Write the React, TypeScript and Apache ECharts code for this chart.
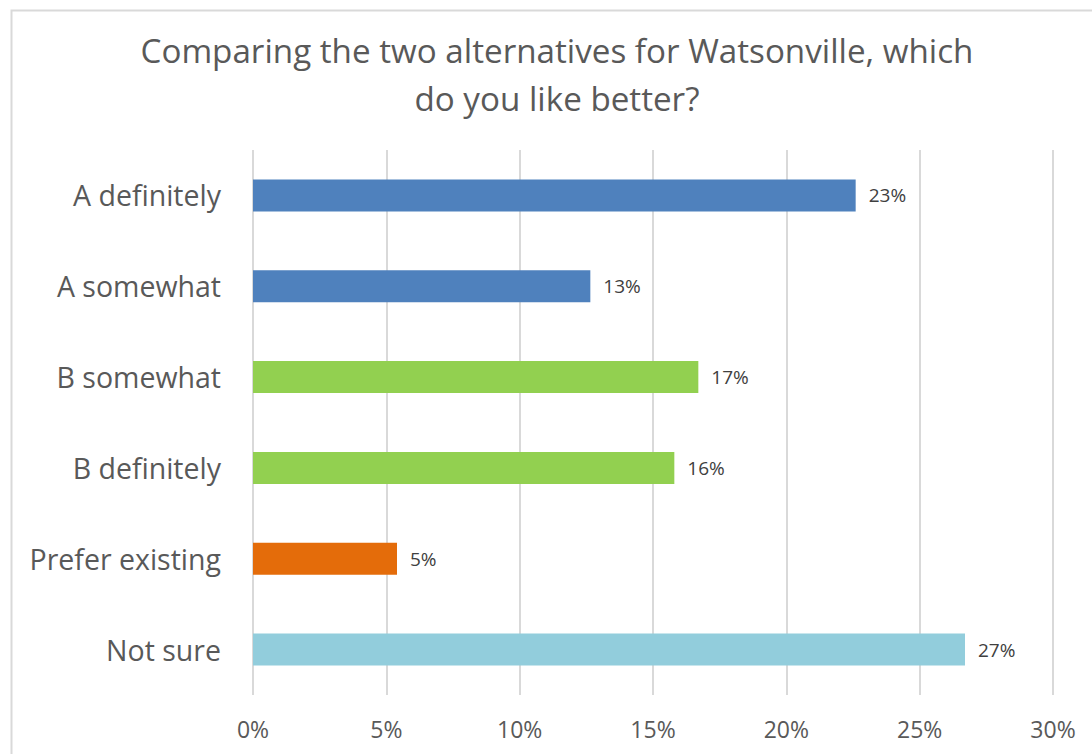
import React, { useEffect, useRef } from "react";
import * as echarts from "echarts";

const categories = ["A definitely", "A somewhat", "B somewhat", "B definitely", "Prefer existing", "Not sure"];
const values = [22.6, 12.65, 16.7, 15.8, 5.4, 26.7];
const barColors = ["#4F81BD", "#4F81BD", "#92D050", "#92D050", "#E46C0A", "#92CDDC"];
const titleLines = ["Comparing the two alternatives for Watsonville, which", "do you like better?"];

export default function App() {
  const ref = useRef<HTMLDivElement>(null);
  useEffect(() => {
    document.body.style.margin = "0";
    const chart = echarts.init(ref.current!, null, { renderer: "svg" });
    const font = "'Open Sans', 'Noto Sans', sans-serif";
    chart.setOption({
      animation: false,
      backgroundColor: "#ffffff",
      title: {
        text: titleLines.join("\n"),
        left: 552,
        top: 21,
        textAlign: "center",
        textStyle: { fontFamily: font, fontSize: 33.2, fontWeight: "normal", color: "#595959", lineHeight: 48 },
      },
      graphic: [
        {
          type: "rect",
          shape: { x: 11.5, y: 10.5, width: 1200, height: 900 },
          style: { fill: "none", stroke: "#d9d9d9", lineWidth: 2 },
          silent: true,
        },
      ],
      grid: { left: 253, right: 39, top: 150, height: 545, containLabel: false },
      xAxis: {
        type: "value",
        min: 0,
        max: 30,
        interval: 5,
        axisLine: { show: false },
        axisTick: { show: false },
        splitLine: { show: true, lineStyle: { color: "#d9d9d9", width: 2 } },
        axisLabel: {
          formatter: (v: number) => v + "%",
          fontFamily: font,
          fontSize: 23,
          color: "#595959",
          margin: 22,
        },
      },
      yAxis: {
        type: "category",
        data: categories,
        inverse: true,
        axisLine: { show: false },
        axisTick: { show: false },
        axisLabel: { fontFamily: font, fontSize: 28.5, color: "#595959", margin: 32 },
      },
      series: [
        {
          type: "bar",
          barWidth: 32,
          data: values.map((v, i) => ({ value: v, itemStyle: { color: barColors[i] } })),
          label: {
            show: true,
            position: "right",
            distance: 13,
            formatter: (p: any) => Math.round(p.value) + "%",
            fontFamily: font,
            fontSize: 19,
            color: "#404040",
          },
        },
      ],
    });
    return () => chart.dispose();
  }, []);
  return <div ref={ref} style={{ width: 1092, height: 754 }} />;
}
